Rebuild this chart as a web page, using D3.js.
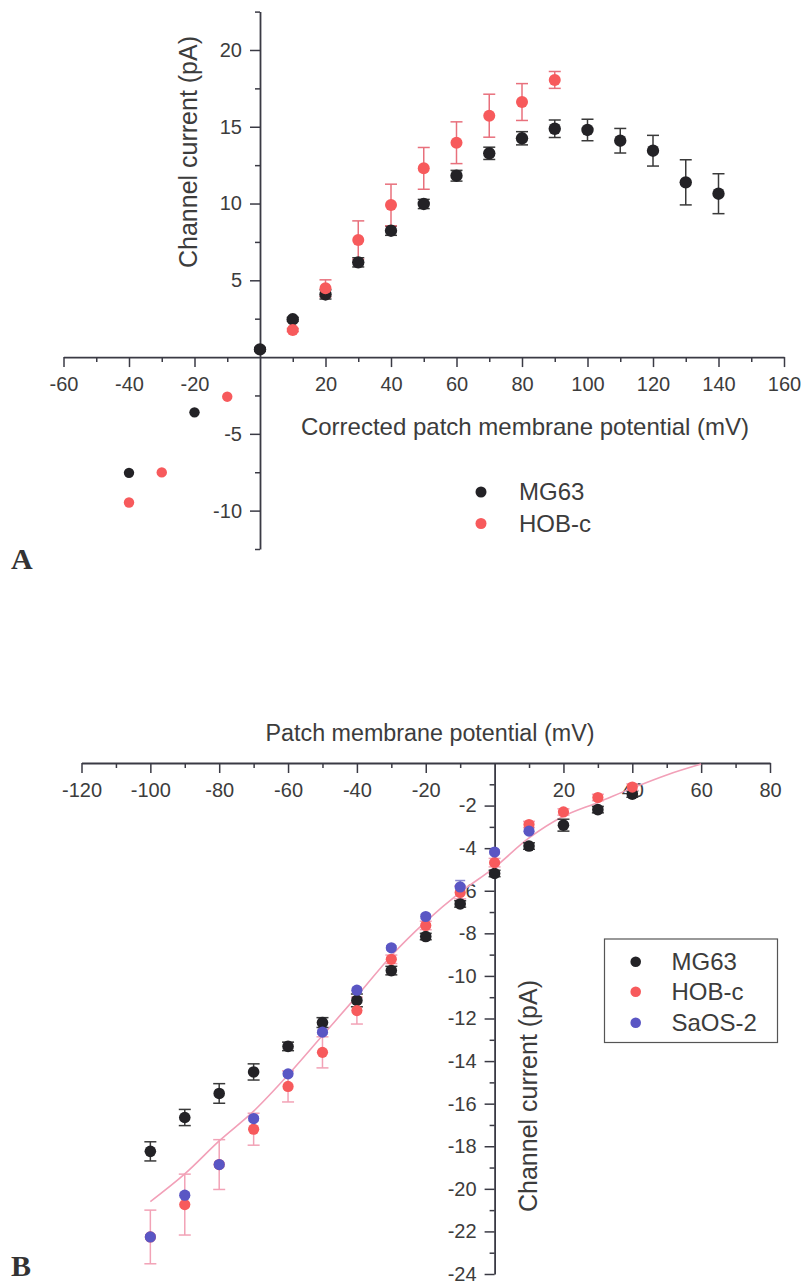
<!DOCTYPE html>
<html><head><meta charset="utf-8">
<script src="https://cdn.jsdelivr.net/npm/d3@7"></script>
<style>
html,body{margin:0;padding:0;background:#fff;}
svg{display:block;font-family:"Liberation Sans",Arial,sans-serif;}
</style></head>
<body>
<svg id="c" width="804" height="1286"></svg>
<script>
// ---------- Panel A data ----------
const aSeries = ["MG63", "HOB-c"];
const aMG63_x   = [-40, -20, 0, 10, 20, 30, 40, 50, 60, 70, 80, 90, 100, 110, 120, 130, 140];
const aMG63_y   = [-7.54, -3.6, 0.5, 2.46, 4.08, 6.17, 8.23, 9.97, 11.81, 13.27, 14.25, 14.87, 14.79, 14.09, 13.44, 11.38, 10.64];
const aMG63_err = [0, 0, 0.12, 0.12, 0.3, 0.3, 0.3, 0.3, 0.35, 0.4, 0.43, 0.57, 0.7, 0.8, 1.0, 1.47, 1.3];
const aHOB_x    = [-40, -30, -10, 10, 20, 30, 40, 50, 60, 70, 80, 90];
const aHOB_y    = [-9.47, -7.51, -2.58, 1.76, 4.48, 7.62, 9.9, 12.29, 13.96, 15.72, 16.61, 18.05];
const aHOB_err  = [0, 0, 0, 0.1, 0.55, 1.25, 1.36, 1.36, 1.36, 1.4, 1.2, 0.55];
const aXMajor = [-60, -40, -20, 0, 20, 40, 60, 80, 100, 120, 140, 160];
const aXMinor = [-50, -30, -10, 10, 30, 50, 70, 90, 110, 130, 150];
const aYMajor = [-10, -5, 5, 10, 15, 20];
const aYMinor = [-12.5, -7.5, -2.5, 2.5, 7.5, 12.5, 17.5, 22.5];

// ---------- Panel B data ----------
const bSeries = ["MG63", "HOB-c", "SaOS-2"];
const bMG63_x   = [-100, -90, -80, -70, -60, -50, -40, -30, -20, -10, 0, 10, 20, 30, 40];
const bMG63_y   = [-18.24, -16.65, -15.52, -14.51, -13.31, -12.19, -11.15, -9.75, -8.15, -6.62, -5.19, -3.9, -2.92, -2.19, -1.46];
const bMG63_err = [0.45, 0.38, 0.46, 0.38, 0.2, 0.23, 0.3, 0.2, 0.15, 0.15, 0.15, 0.15, 0.28, 0.15, 0.15];
const bHOB_x    = [-100, -90, -80, -70, -60, -50, -40, -30, -20, -10, 0, 10, 20, 30, 40];
const bHOB_y    = [-22.26, -20.74, -18.86, -17.2, -15.19, -13.59, -11.63, -9.22, -7.63, -6.08, -4.68, -2.89, -2.3, -1.62, -1.13];
const bHOB_err  = [1.26, 1.43, 1.17, 0.75, 0.73, 0.73, 0.63, 0.2, 0.2, 0.3, 0.2, 0.15, 0.15, 0.15, 0.15];
const bSaOS_x   = [-100, -90, -80, -70, -60, -50, -40, -30, -20, -10, 0, 10];
const bSaOS_y   = [-22.26, -20.3, -18.86, -16.7, -14.6, -12.64, -10.67, -8.68, -7.21, -5.82, -4.18, -3.2];
const bSaOS_err = [0.1, 0.1, 0.1, 0.1, 0.1, 0.1, 0.1, 0.1, 0.1, 0.3, 0.1, 0.1];
const bFit_x = [-100, -90, -80, -70, -60, -50, -40, -30, -20, -10, 0, 10, 20, 30, 40, 50, 60];
const bFit_y = [-20.6, -19.3, -17.75, -16.35, -14.65, -12.8, -10.95, -9.05, -7.45, -6.08, -4.9, -3.52, -2.5, -1.85, -1.18, -0.56, -0.05];
const bXMajor = [-120, -100, -80, -60, -40, -20, 0, 20, 40, 60, 80];
const bXMinor = [-110, -90, -70, -50, -30, -10, 10, 30, 50, 70];
const bYMajor = [-2, -4, -6, -8, -10, -12, -14, -16, -18, -20, -22, -24];
const bYMinor = [-1, -3, -5, -7, -9, -11, -13, -15, -17, -19, -21, -23];

// ---------- styles ----------
const AXIS = "#3a3a44", TXT = "#3c3c3c";
const C_BLACK = "#232226", C_RED = "#f75a5c", C_BLUE = "#5a56c4";
const E_BLACK = "#3a3a3a", E_RED_A = "#e8707c", E_RED_B = "#f2a2b6", E_BLUE = "#8a88d0";
const FIT = "#f2a0b8";

const svg = d3.select("#c");
svg.append("rect").attr("width",804).attr("height",1286).attr("fill","#fff");

function zip(xs, ys, es){ return xs.map((x,i)=>({x, y:ys[i], e: es? es[i] : 0})); }

function styleAxis(g){
  g.selectAll("path.domain").attr("stroke",AXIS).attr("stroke-width",1.8);
  g.selectAll(".tick line").attr("stroke",AXIS).attr("stroke-width",1.5);
  g.selectAll(".tick text").attr("fill",TXT).style("font-size","20px").style("font-family","'Liberation Sans',Arial,sans-serif");
}

function drawAxes(x, y, xMajor, xMinor, yMajor, yMinor, x0px, y0px){
  const gxm = svg.append("g").attr("transform",`translate(0,${y0px})`)
    .call(d3.axisBottom(x).tickValues(xMinor).tickSize(5).tickSizeOuter(0).tickFormat(""));
  gxm.select("path.domain").remove(); styleAxis(gxm);
  const gym = svg.append("g").attr("transform",`translate(${x0px},0)`)
    .call(d3.axisLeft(y).tickValues(yMinor).tickSize(5).tickSizeOuter(0).tickFormat(""));
  gym.select("path.domain").remove(); styleAxis(gym);
  const gx = svg.append("g").attr("transform",`translate(0,${y0px})`)
    .call(d3.axisBottom(x).tickValues(xMajor).tickSize(10).tickSizeOuter(0).tickPadding(10)
      .tickFormat(d => d === 0 ? "" : String(d)));
  styleAxis(gx);
  gx.selectAll(".tick").filter(d => d === 0).select("line").remove();
  const gy = svg.append("g").attr("transform",`translate(${x0px},0)`)
    .call(d3.axisLeft(y).tickValues(yMajor).tickSize(10).tickSizeOuter(0).tickPadding(8)
      .tickFormat(d => String(d)));
  styleAxis(gy);
}

function drawErr(x, y, data, color, cap){
  const g = svg.append("g").attr("stroke",color).attr("stroke-width",1.5).attr("fill","none");
  data.filter(d => d.e > 0).forEach(d => {
    const px = x(d.x), yt = y(d.y + d.e), yb = y(d.y - d.e);
    g.append("line").attr("x1",px).attr("x2",px).attr("y1",yt).attr("y2",yb);
    g.append("line").attr("x1",px-cap).attr("x2",px+cap).attr("y1",yt).attr("y2",yt);
    g.append("line").attr("x1",px-cap).attr("x2",px+cap).attr("y1",yb).attr("y2",yb);
  });
}
function drawPts(x, y, data, color, rFn){
  svg.append("g").selectAll("circle").data(data).join("circle")
    .attr("cx", d => x(d.x)).attr("cy", d => y(d.y)).attr("r", rFn).attr("fill", color);
}

// ================= Panel A =================
const ax = d3.scaleLinear().domain([-60, 160]).range([63.5, 784]);
const ay = d3.scaleLinear().domain([-12.5, 22.5]).range([549, 11.6]);
drawAxes(ax, ay, aXMajor, aXMinor, aYMajor, aYMinor, ax(0), ay(0));

const aM = zip(aMG63_x, aMG63_y, aMG63_err);
const aH = zip(aHOB_x, aHOB_y, aHOB_err);
drawErr(ax, ay, aM, E_BLACK, 6);
drawErr(ax, ay, aH, E_RED_A, 6);
drawPts(ax, ay, aM, C_BLACK, d => d.x < 0 ? 5.2 : 6.2);
drawPts(ax, ay, aH, C_RED, d => d.x < 0 ? 5.2 : 6);

svg.append("text").attr("x",525).attr("y",435).attr("text-anchor","middle")
  .attr("fill",TXT).style("font-size","24px").text("Corrected patch membrane potential (mV)");
svg.append("text").attr("transform","translate(197,152) rotate(-90)").attr("text-anchor","middle")
  .attr("fill",TXT).style("font-size","25px").text("Channel current (pA)");

const aLegColors = [C_BLACK, C_RED];
const aLegY = [492, 523.5];
aSeries.forEach((s,i) => {
  svg.append("circle").attr("cx",481).attr("cy",aLegY[i]).attr("r",5.5).attr("fill",aLegColors[i]);
  svg.append("text").attr("x",519).attr("y",aLegY[i]+8).attr("fill",TXT).style("font-size","24px").text(s);
});
svg.append("text").attr("x",11).attr("y",569).attr("fill","#333")
  .style("font-family","'Liberation Serif','Times New Roman',serif").style("font-weight","bold").style("font-size","30px").text("A");

// ================= Panel B =================
const bx = d3.scaleLinear().domain([-120, 80]).range([81.5, 770]);
const by = d3.scaleLinear().domain([0, -24]).range([763, 1274]);
drawAxes(bx, by, bXMajor, bXMinor, bYMajor, bYMinor, bx(0), by(0));

const fit = bFit_x.map((x,i)=>({x, y:bFit_y[i]}));
svg.append("path").datum(fit)
  .attr("d", d3.line().x(d=>bx(d.x)).y(d=>by(d.y)).curve(d3.curveMonotoneX))
  .attr("fill","none").attr("stroke",FIT).attr("stroke-width",1.6);

const bM = zip(bMG63_x, bMG63_y, bMG63_err);
const bH = zip(bHOB_x, bHOB_y, bHOB_err);
const bS = zip(bSaOS_x, bSaOS_y, bSaOS_err);
drawErr(bx, by, bM, E_BLACK, 6);
drawErr(bx, by, bH, E_RED_B, 6);
drawErr(bx, by, bS, E_BLUE, 5);
drawPts(bx, by, bM, C_BLACK, 5.8);
drawPts(bx, by, bH, C_RED, 5.6);
drawPts(bx, by, bS, C_BLUE, 5.6);

svg.append("text").attr("x",430).attr("y",741).attr("text-anchor","middle")
  .attr("fill",TXT).style("font-size","23.3px").text("Patch membrane potential (mV)");
svg.append("text").attr("transform","translate(537,1096) rotate(-90)").attr("text-anchor","middle")
  .attr("fill",TXT).style("font-size","25px").text("Channel current (pA)");

svg.append("rect").attr("x",604.5).attr("y",939).attr("width",173).attr("height",103.5)
  .attr("fill","#fff").attr("stroke","#555").attr("stroke-width",1.2);
const bLegColors = [C_BLACK, C_RED, C_BLUE];
const bLegY = [961.7, 991.7, 1022.7];
bSeries.forEach((s,i) => {
  svg.append("circle").attr("cx",635.7).attr("cy",bLegY[i]).attr("r",5.3).attr("fill",bLegColors[i]);
  svg.append("text").attr("x",671.5).attr("y",bLegY[i]+8.3).attr("fill",TXT).style("font-size","24px").text(s);
});
svg.append("text").attr("x",11).attr("y",1276).attr("fill","#333")
  .style("font-family","'Liberation Serif','Times New Roman',serif").style("font-weight","bold").style("font-size","30px").text("B");
</script>
</body></html>
